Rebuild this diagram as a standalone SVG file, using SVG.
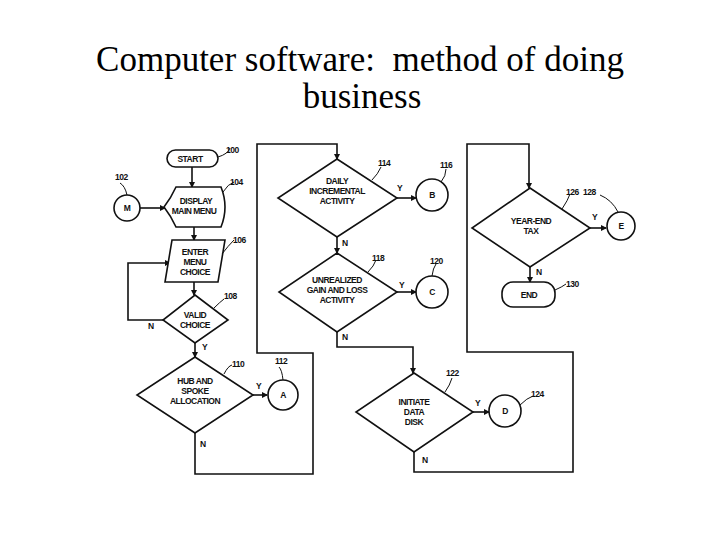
<svg xmlns="http://www.w3.org/2000/svg" width="720" height="540" viewBox="0 0 720 540">
<defs>
<marker id="ar" markerWidth="6" markerHeight="6" refX="5" refY="3" orient="auto" markerUnits="userSpaceOnUse"><path d="M0,0 L6,3 L0,6Z" fill="#111"/></marker>
<style>
.s{fill:#fff;stroke:#111;stroke-width:1.6}
.c{fill:none;stroke:#111;stroke-width:1.6}
.l{fill:none;stroke:#111;stroke-width:1}
.t{font-family:"Liberation Sans",Arial,sans-serif;font-weight:bold;font-size:8.5px;fill:#111;text-anchor:middle;letter-spacing:-0.5px}
.n{font-family:"Liberation Sans",Arial,sans-serif;font-weight:bold;font-size:8.5px;fill:#111;letter-spacing:-0.5px}
.h{font-family:"Liberation Serif","Times New Roman",serif;font-size:35px;fill:#000;text-anchor:middle}
</style>
</defs>
<rect width="720" height="540" fill="#fff"/>
<text class="h" x="360" y="71">Computer software: &#160;method of doing</text>
<text class="h" x="362" y="108">business</text>

<g id="connectors">
<path class="c" d="M192,167 V187" marker-end="url(#ar)"/>
<path class="c" d="M140,208 H165" marker-end="url(#ar)"/>
<path class="c" d="M194,227 V240" marker-end="url(#ar)"/>
<path class="c" d="M194,282 V295" marker-end="url(#ar)"/>
<path class="c" d="M163,320 H128 V263 H170" marker-end="url(#ar)"/>
<path class="c" d="M195,343 V357" marker-end="url(#ar)"/>
<path class="c" d="M253,395 H267" marker-end="url(#ar)"/>
<path class="c" d="M195,433 V474 H313 V353 H257 V144 H337 V159" marker-end="url(#ar)"/>
<path class="c" d="M397,198 H416" marker-end="url(#ar)"/>
<path class="c" d="M337,237 V253" marker-end="url(#ar)"/>
<path class="c" d="M397,292 H416" marker-end="url(#ar)"/>
<path class="c" d="M337,332 V347 H413 V373" marker-end="url(#ar)"/>
<path class="c" d="M473,412 H489" marker-end="url(#ar)"/>
<path class="c" d="M414,452 V472 H573 V352 H467 V144 H529 V188" marker-end="url(#ar)"/>
<path class="c" d="M590,228 H606" marker-end="url(#ar)"/>
<path class="c" d="M530,267 V282" marker-end="url(#ar)"/>
<text class="n" x="148" y="329">N</text>
<text class="n" x="202" y="350">Y</text>
<text class="n" x="256" y="389">Y</text>
<text class="n" x="200" y="447">N</text>
<text class="n" x="397" y="191">Y</text>
<text class="n" x="342" y="246">N</text>
<text class="n" x="399" y="288">Y</text>
<text class="n" x="342" y="340">N</text>
<text class="n" x="475" y="406">Y</text>
<text class="n" x="422" y="463">N</text>
<text class="n" x="592" y="220">Y</text>
<text class="n" x="536" y="275">N</text>
</g>

<g id="n100"><rect class="s" x="167" y="150" width="51" height="17" rx="8.5"/><text class="t" x="190" y="162">START</text><path class="l" d="M218,157 Q228,154 230,148"/><text class="n" x="226" y="153">100</text></g>
<g id="n102"><circle class="s" cx="127" cy="208" r="13"/><text class="t" x="127" y="211">M</text><path class="l" d="M127,195 Q125,186 120,183"/><text class="n" x="115" y="180">102</text></g>
<g id="n104"><path class="s" d="M176,187 H221 Q229,207 221,227 H176 Q171,216 164,207 Q171,198 176,187Z"/><text class="t" x="196" y="204">DISPLAY</text><text class="t" x="194" y="214">MAIN MENU</text><path class="l" d="M223,192 Q228,184 234,182"/><text class="n" x="230" y="185">104</text></g>
<g id="n106"><path class="s" d="M172,240 H225 L218,282 H165Z"/><text class="t" x="195" y="255">ENTER</text><text class="t" x="195" y="265">MENU</text><text class="t" x="195" y="275">CHOICE</text><path class="l" d="M222,254 Q228,246 234,240"/><text class="n" x="233" y="243">106</text></g>
<g id="n108"><path class="s" d="M195,295 L228,320 L195,343 L163,320Z"/><text class="t" x="195" y="318">VALID</text><text class="t" x="195" y="328">CHOICE</text><path class="l" d="M214,308 Q220,302 224,299"/><text class="n" x="224" y="299">108</text></g>
<g id="n110"><path class="s" d="M195,357 L253,395 L195,433 L137,395Z"/><text class="t" x="195" y="384">HUB AND</text><text class="t" x="195" y="394">SPOKE</text><text class="t" x="195" y="404">ALLOCATION</text><path class="l" d="M224,374 Q228,366 232,365"/><text class="n" x="232" y="367">110</text></g>
<g id="n112"><circle class="s" cx="283" cy="395" r="15"/><text class="t" x="283" y="398">A</text><path class="l" d="M283,380 Q282,370 279,367"/><text class="n" x="275" y="364">112</text></g>
<g id="n114"><path class="s" d="M337,159 L397,198 L337,237 L278,198Z"/><text class="t" x="337" y="184">DAILY</text><text class="t" x="337" y="194">INCREMENTAL</text><text class="t" x="337" y="204">ACTIVITY</text><path class="l" d="M372,180 Q378,174 381,167"/><text class="n" x="378" y="166">114</text></g>
<g id="n116"><circle class="s" cx="432" cy="195" r="16"/><text class="t" x="432" y="198">B</text><path class="l" d="M441,182 Q446,176 446,169"/><text class="n" x="440" y="168">116</text></g>
<g id="n118"><path class="s" d="M337,253 L397,292 L337,332 L279,292Z"/><text class="t" x="337" y="283">UNREALIZED</text><text class="t" x="337" y="293">GAIN AND LOSS</text><text class="t" x="337" y="303">ACTIVITY</text><path class="l" d="M368,272 Q374,266 376,260"/><text class="n" x="372" y="261">118</text></g>
<g id="n120"><circle class="s" cx="432" cy="292" r="16"/><text class="t" x="432" y="295">C</text><path class="l" d="M432,276 Q433,268 436,264"/><text class="n" x="430" y="264">120</text></g>
<g id="n122"><path class="s" d="M414,373 L473,412 L414,452 L356,412Z"/><text class="t" x="414" y="405">INITIATE</text><text class="t" x="414" y="415">DATA</text><text class="t" x="414" y="425">DISK</text><path class="l" d="M445,392 Q450,385 452,378"/><text class="n" x="446" y="376">122</text></g>
<g id="n124"><circle class="s" cx="505" cy="411" r="16"/><text class="t" x="505" y="414">D</text><path class="l" d="M520,405 Q527,398 533,396"/><text class="n" x="531" y="397">124</text></g>
<g id="n126"><path class="s" d="M530,188 L590,228 L530,267 L472,228Z"/><text class="t" x="531" y="224">YEAR-END</text><text class="t" x="531" y="234">TAX</text><path class="l" d="M562,209 Q568,200 570,194"/><text class="n" x="566" y="195">126</text></g>
<g id="n128"><circle class="s" cx="621" cy="226" r="14"/><text class="t" x="621" y="229">E</text><path class="l" d="M618,212 Q612,200 600,195"/><text class="n" x="583" y="195">128</text></g>
<g id="n130"><rect class="s" x="502" y="282" width="53" height="25" rx="11"/><text class="t" x="529" y="298">END</text><path class="l" d="M555,290 Q562,287 566,284"/><text class="n" x="566" y="287">130</text></g>
</svg>
